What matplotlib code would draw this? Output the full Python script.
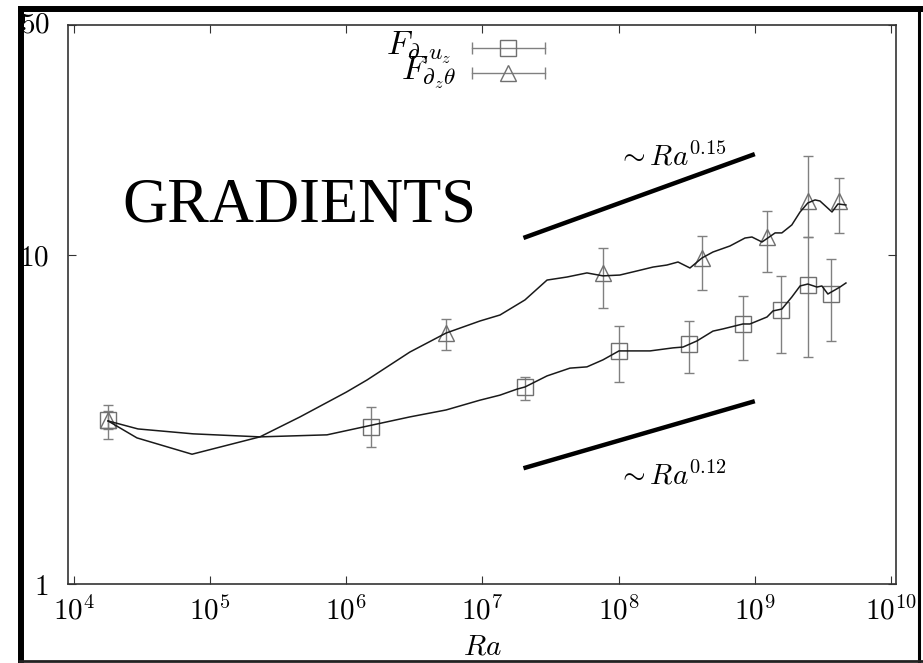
import matplotlib
matplotlib.use("Agg")
import matplotlib.pyplot as plt
from matplotlib.lines import Line2D
import numpy as np

plt.rcParams['mathtext.fontset'] = 'cm'
plt.rcParams['font.family'] = ['DejaVu Serif']

# --- F for d_z u_z (squares) ---
ra_u_pts = [1.78e4, 1.52e6, 2.05e7, 1.0e8, 3.28e8, 8.18e8, 1.56e9, 2.45e9, 3.62e9]
f_u_pts = [3.15, 3.00, 3.97, 5.11, 5.36, 6.17, 6.80, 8.11, 7.61]
f_u_lo = [2.76, 2.61, 3.63, 4.11, 4.38, 4.80, 5.04, 4.90, 5.48]
f_u_hi = [3.50, 3.45, 4.26, 6.09, 6.30, 7.50, 8.63, 11.34, 9.72]

ra_u_line = [1.78e4, 2.95e4, 7.5e4, 2.32e5, 7.21e5, 1.54e6, 2.93e6, 5.4e6, 9.58e6,
             1.345e7, 1.79e7, 2.05e7, 2.98e7, 4.39e7, 5.85e7, 7.67e7, 1.006e8,
             1.27e8, 1.70e8, 2.51e8, 2.97e8, 3.76e8, 4.93e8, 5.83e8, 8.18e8,
             9.21e8, 1.23e9, 1.36e9, 1.58e9, 1.87e9, 2.15e9, 2.45e9, 2.86e9,
             3.11e9, 3.44e9, 3.88e9, 4.22e9, 4.67e9]
f_u_line = [3.13, 2.96, 2.86, 2.80, 2.84, 3.04, 3.22, 3.38, 3.62,
            3.75, 3.91, 3.97, 4.29, 4.53, 4.57, 4.80, 5.11,
            5.11, 5.11, 5.22, 5.25, 5.48, 5.87, 5.96, 6.17,
            6.17, 6.48, 6.76, 6.85, 7.45, 8.05, 8.16, 7.99,
            8.05, 7.61, 7.83, 7.99, 8.22]

# --- F for d_z theta (triangles) ---
ra_t_pts = [1.78e4, 5.40e6, 7.67e7, 4.09e8, 1.23e9, 2.45e9, 4.15e9]
f_t_pts = [3.15, 5.79, 8.82, 9.79, 11.34, 14.6, 14.6]
f_t_lo = [2.95, 5.14, 6.90, 7.83, 8.88, 11.34, 11.66]
f_t_hi = [3.35, 6.39, 10.5, 11.42, 13.6, 20.0, 17.1]

ra_t_line = [1.78e4, 2.9e4, 7.36e4, 2.32e5, 4.57e5, 1.0e6, 1.42e6, 2.93e6, 5.4e6,
             9.58e6, 1.345e7, 2.05e7, 2.98e7, 4.17e7, 5.85e7, 7.67e7, 1.02e8,
             1.36e8, 1.79e8, 2.26e8, 2.73e8, 3.34e8, 4.09e8, 4.93e8, 6.57e8,
             8.47e8, 9.53e8, 1.13e9, 1.41e9, 1.58e9, 1.87e9, 2.15e9, 2.45e9,
             2.77e9, 3.01e9, 3.69e9, 4.08e9, 4.67e9]
f_t_line = [3.13, 2.78, 2.48, 2.80, 3.22, 3.83, 4.17, 5.07, 5.79,
            6.30, 6.57, 7.30, 8.39, 8.57, 8.82, 8.64, 8.69,
            8.94, 9.19, 9.32, 9.52, 9.13, 9.79, 10.21, 10.65,
            11.26, 11.34, 10.95, 11.67, 11.67, 12.34, 13.51, 14.39,
            14.70, 14.59, 13.51, 14.29, 14.19]

# --- power-law guides ---
ra_guide = [2e7, 1e9]
guide_hi = (0.905, 0.15)
guide_lo = (0.299, 0.12)

x_ticks = [1e4, 1e5, 1e6, 1e7, 1e8, 1e9, 1e10]
x_tick_labels = [r'$10^{4}$', r'$10^{5}$', r'$10^{6}$', r'$10^{7}$',
                 r'$10^{8}$', r'$10^{9}$', r'$10^{10}$']
y_ticks = [1, 10, 50]
y_tick_labels = [r'$1$', r'$10$', r'$50$']

W, H = 923, 663
fig = plt.figure(figsize=(W / 100, H / 100), dpi=100)
ax = fig.add_axes([68 / W, 1 - 584 / H, (896 - 68) / W, (584 - 25) / H])
ax.set_xscale('log')
ax.set_yscale('log')
ax.set_xlim(10 ** 3.956, 10 ** 10.037)
ax.set_ylim(1, 50)

line_col = '#1a1a1a'
mark_col = '#707070'
err_col = '#808080'

def err_pair(f, lo, hi):
    f = np.asarray(f); lo = np.asarray(lo); hi = np.asarray(hi)
    return np.vstack([f - lo, hi - f])

ax.errorbar(ra_u_pts, f_u_pts, yerr=err_pair(f_u_pts, f_u_lo, f_u_hi), fmt='none',
            ecolor=err_col, elinewidth=1.0, capsize=3.3, capthick=1.0, zorder=2)
ax.errorbar(ra_t_pts, f_t_pts, yerr=err_pair(f_t_pts, f_t_lo, f_t_hi), fmt='none',
            ecolor=err_col, elinewidth=1.0, capsize=3.3, capthick=1.0, zorder=2)
ax.plot(ra_u_pts, f_u_pts, ls='none', marker='s', ms=12, mfc='none', mec=mark_col,
        mew=1.0, zorder=3)
ax.plot(ra_t_pts, f_t_pts, ls='none', marker='^', ms=12, mfc='none', mec=mark_col,
        mew=1.0, zorder=3)
ax.plot(ra_u_line, f_u_line, color=line_col, lw=1.1, zorder=4)
ax.plot(ra_t_line, f_t_line, color=line_col, lw=1.1, zorder=4)

ra_g = np.asarray(ra_guide)
ax.plot(ra_g, guide_hi[0] * ra_g ** guide_hi[1], color='black', lw=3.2,
        solid_capstyle='butt', zorder=4)
ax.plot(ra_g, guide_lo[0] * ra_g ** guide_lo[1], color='black', lw=3.2,
        solid_capstyle='butt', zorder=4)

ax.text(0.7295, 0.764, r'$\sim Ra^{%g}$' % guide_hi[1], transform=ax.transAxes,
        ha='center', va='center', fontsize=21)
ax.text(0.7295, 0.193, r'$\sim Ra^{%g}$' % guide_lo[1], transform=ax.transAxes,
        ha='center', va='center', fontsize=21)

ax.text(0.280, 0.6476, 'GRADIENTS', transform=ax.transAxes, ha='center',
        va='baseline', fontsize=45, family=['Liberation Serif'])

# key drawn in axes fraction
rows = [(0.959, 's', r'$F_{\partial_z u_z}$', 0.463),
        (0.914, '^', r'$F_{\partial_z \theta}$', 0.469)]
for yk, mk, lab, xr in rows:
    ax.add_line(Line2D([0.488, 0.576], [yk, yk], transform=ax.transAxes,
                       color=err_col, lw=1.0))
    ax.add_line(Line2D([0.488, 0.576], [yk, yk], transform=ax.transAxes,
                       ls='none', marker='|', ms=9, mew=1.0, color=err_col))
    ax.add_line(Line2D([0.531], [yk], transform=ax.transAxes, ls='none',
                       marker=mk, ms=12, mfc='none', mec=mark_col, mew=1.0))
    ax.text(xr, yk, lab, transform=ax.transAxes, ha='right', va='center',
            fontsize=24)

ax.set_xticks(x_ticks)
ax.set_xticklabels(x_tick_labels, fontsize=21)
ax.set_yticks(y_ticks)
# the top label sits just under the outer frame, so it is placed by hand
ax.set_yticklabels(y_tick_labels[:-1] + [''], fontsize=21)
ax.text(-0.0217, 0.9857, y_tick_labels[-1], transform=ax.transAxes, ha='right',
        va='baseline', fontsize=21, clip_on=False)
ax.minorticks_off()
ax.tick_params(which='major', direction='in', length=6, width=0.8, color='#333333',
               top=True, right=True)
ax.tick_params(axis='x', pad=9)
ax.tick_params(axis='y', pad=14)
for s in ax.spines.values():
    s.set_linewidth(1.2)
    s.set_color('#333333')

ax.set_xlabel(r'$Ra$', fontsize=21, labelpad=5)

# outer frame
def fx(px):
    return px / W

def fy(py):
    return 1 - py / H

fig.add_artist(Line2D([fx(18), fx(923)], [fy(9), fy(9)], transform=fig.transFigure,
                      color='black', lw=4.3, solid_capstyle='butt'))
fig.add_artist(Line2D([fx(21), fx(21)], [fy(6), fy(663)], transform=fig.transFigure,
                      color='black', lw=4.3, solid_capstyle='butt'))
fig.add_artist(Line2D([fx(918.5), fx(918.5)], [fy(6), fy(663)], transform=fig.transFigure,
                      color='black', lw=2.2, solid_capstyle='butt'))
fig.add_artist(Line2D([fx(18), fx(923)], [fy(661), fy(661)], transform=fig.transFigure,
                      color='#222222', lw=2.0, solid_capstyle='butt'))

fig.savefig('out.png', dpi=100)
